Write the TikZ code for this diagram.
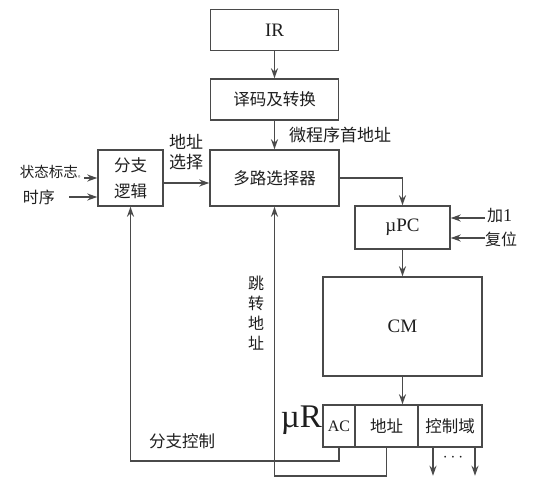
\documentclass[tikz,border=0pt]{standalone}
\usepackage{fontspec}
\setmainfont{Liberation Serif}
\newfontfamily\cjk{Noto Sans CJK SC}
\usetikzlibrary{arrows.meta}
\definecolor{linegray}{HTML}{4A4A4A}
\definecolor{inkc}{HTML}{1E1E1E}
\tikzset{
  blk/.style={draw=linegray, line width=1.5pt, inner sep=0pt, text=inkc,
              font=\fontsize{19}{21}\selectfont},
  flow/.style={draw=linegray, line width=1.5pt,
               -{Stealth[length=10pt,width=7pt]}},
  lbl/.style={text=inkc, inner sep=0pt, font=\cjk\fontsize{16}{18}\selectfont},
  cjkin/.style={font=\cjk\fontsize{16.5}{19}\selectfont},
}
\begin{document}
\begin{tikzpicture}[x=1pt,y=-1pt]
\useasboundingbox (0,0) rectangle (544,490);

% blocks
\node[blk, minimum width=128, minimum height=41] (ir)  at (274.5,30)   {IR};
\node[blk, cjkin, minimum width=128, minimum height=41] (dec) at (274.5,99.5) {译码及转换};
\node[blk, cjkin, minimum width=129, minimum height=56] (mux) at (274.5,178)  {多路选择器};
\node[blk, minimum width=65, minimum height=56, align=center,
      font=\cjk\fontsize{16.5}{26}\selectfont] (br) at (130.5,178) {分支\\逻辑};
\node[blk, minimum width=95,  minimum height=43] (upc) at (402.5,227.5) {\textmu PC};
\node[blk, minimum width=159, minimum height=99] (cm)  at (402.5,326.5) {CM};

% microinstruction register fields
\node[blk, minimum width=32, minimum height=42, font=\fontsize{16}{18}\selectfont] (ac) at (339,426) {AC};
\node[blk, cjkin, minimum width=63, minimum height=42] (addr) at (386.5,426) {地址};
\node[blk, cjkin, minimum width=64, minimum height=42] (ctl)  at (450,426)   {控制域};
\node[text=inkc, inner sep=0pt, font=\fontsize{33}{34}\selectfont, anchor=east] (ur) at (322,420) {\textmu R};

% main data path
\draw[flow] (ir) -- (dec);
\draw[flow] (dec) -- (mux);
\draw[flow] ([yshift=-5pt]br.east) -- ([yshift=-5pt]br.east -| mux.west);
\draw[flow] (mux.east) -| (upc.north);
\draw[flow] (upc) -- (cm);
\draw[flow] (cm.south) -- (cm.south |- addr.north);

% external inputs of the uPC
\coordinate (inc) at (485,218);
\coordinate (rst) at (485,238);
\draw[flow] (inc) -- (inc -| upc.east);
\draw[flow] (rst) -- (rst -| upc.east);
\node[lbl, anchor=west] (incl) at (487,216) {加{\rmfamily\fontsize{18}{18}\selectfont 1}};
\node[lbl, anchor=west] (rstl) at (485,239) {复位};

% inputs of the branch logic
\coordinate (stin) at (84,178);
\coordinate (tmin) at (69,197);
\draw[flow] (stin) -- (stin -| br.west);
\draw[flow] (tmin) -- (tmin -| br.west);
\node[lbl, anchor=east, font=\cjk\fontsize{14.5}{16}\selectfont] (stl) at (85,172)
  {状态标志{\fontsize{7}{7}\selectfont 。}};
\node[lbl, anchor=center] (tml) at (39,197) {时序};

% feedback paths from the microinstruction register
\draw[flow] (ac.south) -- (ac.south |- 0,461) -| (br.south);
\draw[flow] (addr.south) -- (addr.south |- 0,476) -| (mux.south);

% control field outputs
\draw[flow] ([xshift=-17pt]ctl.south) -- ++(0,28);
\draw[flow] ([xshift=25pt]ctl.south) -- ++(0,28);
\node[text=inkc, inner sep=0pt, font=\fontsize{16}{16}\selectfont] (dots) at (453,458) {$\cdots$};

% labels
\node[lbl, anchor=west, font=\cjk\fontsize{17}{18}\selectfont] (first) at (289,135) {微程序首地址};
\node[lbl, align=center, font=\cjk\fontsize{17}{20}\selectfont] (sel) at (186,152) {地址\\选择};
\node[lbl, align=center, font=\cjk\fontsize{16}{20}\selectfont] (jmp) at (256,313) {跳\\转\\地\\址};
\node[lbl, font=\cjk\fontsize{16.5}{18}\selectfont] (brc) at (182,441) {分支控制};
\end{tikzpicture}
\end{document}
